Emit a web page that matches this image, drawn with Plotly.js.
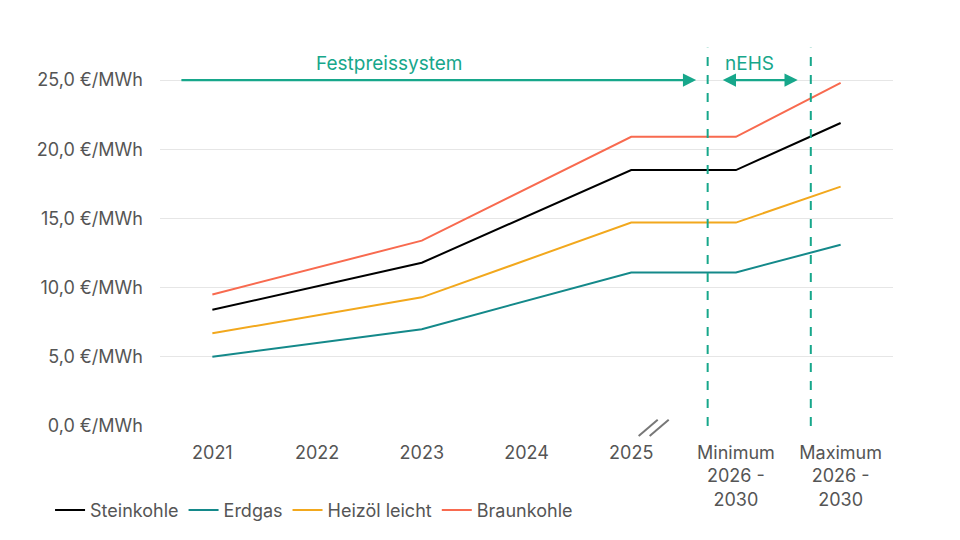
<!DOCTYPE html>
<html>
<head>
<meta charset="utf-8">
<script src="https://cdn.plot.ly/plotly-3.0.1.min.js"></script>
<style>html,body{margin:0;padding:0;background:#fff;}#chart{width:960px;height:540px;}</style>
</head>
<body>
<div id="chart"></div>
<script>
const categories = ["2021", "2022", "2023", "2024", "2025", "Minimum<br>2026 -<br>2030", "Maximum<br>2026 -<br>2030"];
const steinkohle = [8.4, null, 11.8, null, 18.5, 18.5, 21.9];
const erdgas = [5.0, null, 7.0, null, 11.1, 11.1, 13.1];
const heizoel = [6.7, null, 9.3, null, 14.7, 14.7, 17.3];
const braunkohle = [9.5, null, 13.4, null, 20.9, 20.9, 24.8];
const seriesNames = ["Steinkohle", "Erdgas", "Heizöl leicht", "Braunkohle"];
const seriesColors = ["#000000", "#14898a", "#f2a81d", "#f86a4f"];
const yTicks = [0, 5, 10, 15, 20, 25];
const yTickText = yTicks.map(v => v.toFixed(1).replace(".", ",") + " €/MWh");

const FONT = "Inter, 'Noto Sans', sans-serif";
const ACCENT = "#17a78b";
const seriesData = [steinkohle, erdgas, heizoel, braunkohle];

const traces = seriesData.map((vals, i) => ({
  type: "scatter", mode: "lines",
  x: categories, y: vals, name: seriesNames[i],
  connectgaps: true,
  line: {color: seriesColors[i], width: 2},
  hoverinfo: "skip"
}));

const layout = {
  width: 960, height: 540,
  margin: {l: 160, r: 67, t: 40, b: 113},
  paper_bgcolor: "#fff", plot_bgcolor: "#fff",
  font: {family: FONT, size: 18, color: "#555"},
  showlegend: true,
  legend: {orientation: "h", x: -0.15, xanchor: "left", y: -0.215, yanchor: "middle",
           font: {family: FONT, size: 18, color: "#555"}, itemwidth: 30, tracegroupgap: 0},
  xaxis: {type: "category", range: [-0.5, 6.5], showgrid: false, zeroline: false,
          showline: false, ticks: "", ticklabelstandoff: 14,
          tickfont: {family: FONT, size: 18, color: "#555"}},
  yaxis: {range: [0, 27.9], tickmode: "array", tickvals: yTicks, ticktext: yTickText,
          showgrid: true, gridcolor: "#e6e6e6", gridwidth: 1, zeroline: false,
          showline: false, ticks: "", ticklabelstandoff: 16,
          tickfont: {family: FONT, size: 18, color: "#555"}},
  shapes: [
    {type: "line", xref: "x", yref: "paper", x0: 4.73, x1: 4.73, y0: 0, y1: 0.98,
     line: {color: ACCENT, width: 2, dash: "dash"}},
    {type: "line", xref: "x", yref: "paper", x0: 5.715, x1: 5.715, y0: 0, y1: 0.98,
     line: {color: ACCENT, width: 2, dash: "dash"}},
    {type: "line", xref: "paper", yref: "paper", x0: 0.653, x1: 0.679, y0: -0.026, y1: 0.016,
     line: {color: "#777", width: 2}},
    {type: "line", xref: "paper", yref: "paper", x0: 0.668, x1: 0.694, y0: -0.026, y1: 0.016,
     line: {color: "#777", width: 2}}
  ],
  annotations: [
    {xref: "x", yref: "y", x: 4.62, y: 25, ax: -0.31, ay: 25, axref: "x", ayref: "y",
     showarrow: true, arrowhead: 2, arrowsize: 1.2, arrowwidth: 2.2, arrowcolor: ACCENT, text: ""},
    {xref: "x", yref: "y", x: 5.59, y: 25, ax: 4.86, ay: 25, axref: "x", ayref: "y",
     showarrow: true, arrowhead: 2, startarrowhead: 2, arrowside: "end+start", arrowsize: 1.2, startarrowsize: 1.2,
     arrowwidth: 2.2, arrowcolor: ACCENT, text: ""},
    {xref: "x", yref: "y", x: 1.69, y: 26.2, text: "Festpreissystem", showarrow: false,
     font: {family: FONT, size: 19, color: ACCENT}},
    {xref: "x", yref: "y", x: 5.13, y: 26.2, text: "nEHS", showarrow: false,
     font: {family: FONT, size: 19, color: ACCENT}}
  ]
};

Plotly.newPlot("chart", traces, layout, {displayModeBar: false, staticPlot: true});
</script>
</body>
</html>
